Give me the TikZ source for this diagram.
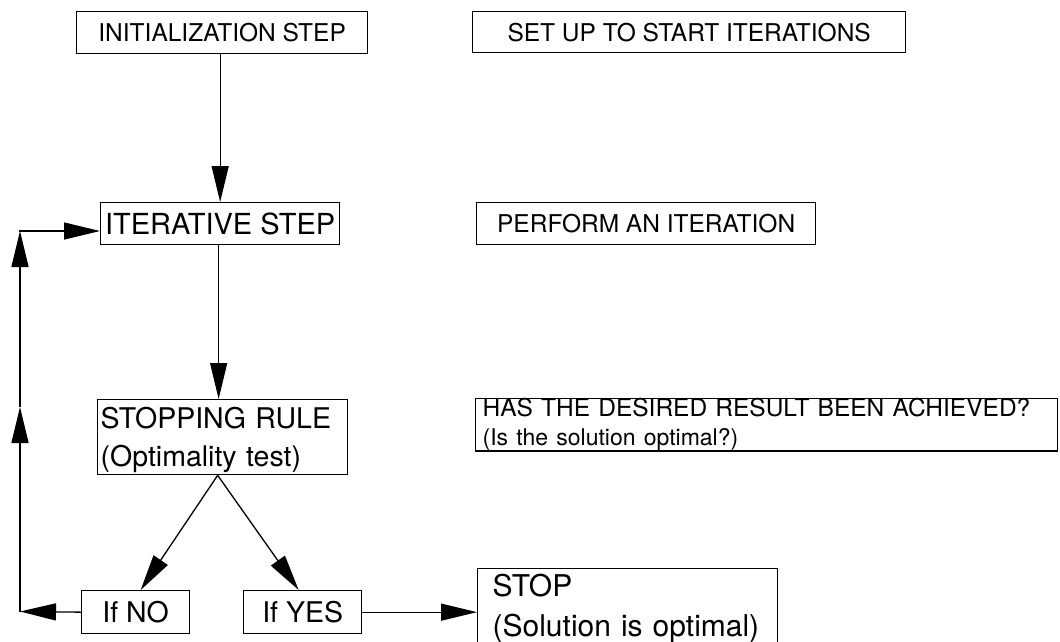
\documentclass[tikz,border=0pt]{standalone}
\usepackage{fontspec}
\setmainfont{TeX Gyre Heros}
\usetikzlibrary{arrows.meta}
\begin{document}
\begin{tikzpicture}[x=1pt,y=-1pt,
  box/.style={draw, line width=1.3pt, inner sep=0pt, anchor=north west},
  arr/.style={line width=1.3pt, -{Triangle[length=36pt,width=17pt]}}]
\useasboundingbox (0,0) rectangle (1060,641);
\fill[white] (0,0) rectangle (1060,641);

\node[box, minimum width=291pt, minimum height=42pt, font=\fontsize{24.5}{28}\selectfont] (init) at (76,11) {INITIALIZATION STEP};
\node[box, minimum width=433pt, minimum height=41pt, font=\fontsize{24.5}{28}\selectfont] (setup) at (472,11) {SET UP TO START ITERATIONS};
\node[box, minimum width=239pt, minimum height=42pt, font=\fontsize{29}{32}\selectfont] (iter) at (100,202) {ITERATIVE STEP};
\node[box, minimum width=339pt, minimum height=42pt, font=\fontsize{24.5}{28}\selectfont] (perform) at (476,202) {PERFORM AN ITERATION};
\node[box, minimum width=250pt, minimum height=75pt, text width=244pt, inner xsep=3pt, align=left, font=\fontsize{28.5}{38}\selectfont] (rule) at (97,399) {\rule{0pt}{26pt}STOPPING RULE\\(Optimality test)};
\node[box, minimum width=582pt, minimum height=46pt, text width=568pt, inner xsep=7pt, align=left, font=\fontsize{24.5}{25}\selectfont] (has) at (475,398) {HAS THE DESIRED RESULT BEEN ACHIEVED?\\[4pt]{\fontsize{23}{25}\selectfont (Is the solution optimal?)}};
\node[box, minimum width=108pt, minimum height=43pt, font=\fontsize{28.5}{32}\selectfont] (ifno) at (81,590) {If NO};
\node[box, minimum width=118pt, minimum height=43pt, font=\fontsize{28.5}{32}\selectfont] (ifyes) at (243,590) {If YES};
\node[box, minimum width=300pt, minimum height=80pt, text width=270pt, inner xsep=15pt, align=left, font=\fontsize{30}{40}\selectfont] (stop) at (477,568) {STOP\\(Solution is optimal)};

\coordinate (c1) at (20,611.5);
\coordinate (c2) at (20,407);
\coordinate (c3) at (20,231);

\draw[arr] (iter.north |- init.south) -- (iter.north);
\draw[arr] ([xshift=-1.5pt]iter.south) -- ([xshift=-1.5pt]iter.south |- rule.north);
\draw[arr] ([xshift=-5pt]rule.south) -- ([xshift=5pt]ifno.north);
\draw[arr] ([xshift=-5pt]rule.south) -- ([xshift=-4pt]ifyes.north);
\draw[arr] (ifno.west) -- (c1);
\draw[arr] (c1) -- (c2);
\draw[arr] (c2) -- (c3);
\draw[arr, line cap=rect] (c3) -- (c3 -| iter.west);
\draw[arr] (ifyes.east) -- (ifyes.east -| stop.west);
\end{tikzpicture}
\end{document}
